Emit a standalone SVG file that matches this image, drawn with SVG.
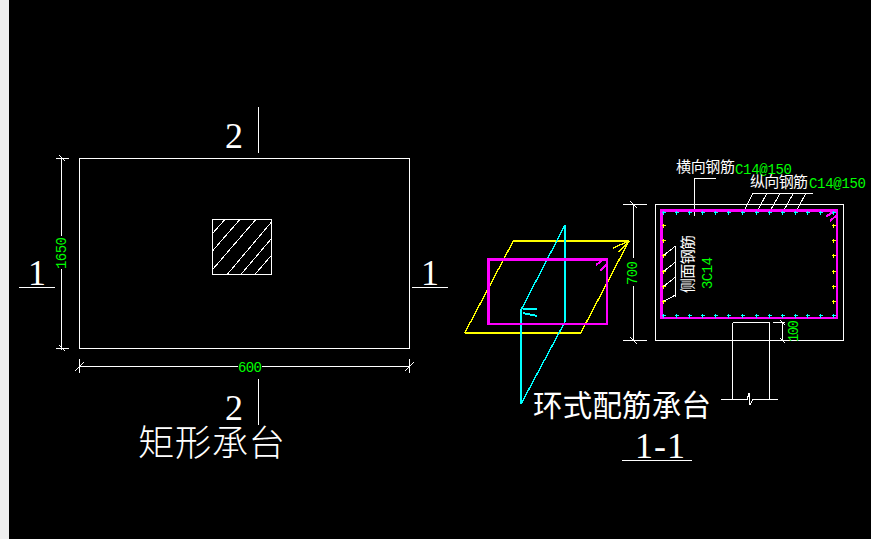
<svg xmlns="http://www.w3.org/2000/svg" width="871" height="539" viewBox="0 0 871 539">
<style>
path,rect{shape-rendering:crispEdges}
.w{fill:none;stroke:#fff;stroke-width:1}
.t{fill:none;stroke:#fff;stroke-width:1}
.m{fill:none;stroke:#f0f;stroke-width:2}
.m3{fill:none;stroke:#f0f;stroke-width:2.5}
.y{fill:none;stroke:#ff0;stroke-width:2}
.yd{fill:none;stroke:#ff0;stroke-width:1.4}
.c{fill:none;stroke:#0ff;stroke-width:2}
.cd{fill:none;stroke:#0ff;stroke-width:1.4}
.g{fill:#0f0;font-family:"Liberation Mono",monospace;font-size:14px}
.l{fill:#fff;font-family:"Noto Sans CJK SC","Noto Sans",sans-serif;font-size:15px}
.s{fill:#fff;font-family:"Liberation Serif",serif}
.h{fill:#fff;font-family:"Noto Sans CJK SC",sans-serif;font-weight:300}
.py{stroke:#ff0;stroke-width:1.5;fill:none}
.pc{stroke:#0ff;stroke-width:1.5;fill:none}
</style>
<defs>
<path id="py" class="py" d="M-2 0H2M0-2V2"/>
<path id="pc" class="pc" d="M-2 0H2M0-2V2"/>
</defs>
<rect width="871" height="539" fill="#000"/>
<rect width="9" height="539" fill="#efefef"/>
<g id="connectors">
<path class="w" d="M61.5 157V236M61.5 269V350M56 158.5H69M56 348.5H69"/>
<path class="t" d="M59 155L65 161M59 345L65 351"/>
<path class="w" d="M79.5 366.5H238M262 366.5H409.5M79.5 359V373M409.5 359V373"/>
<path class="t" d="M75 371L84 362M405 371L414 362"/>
<path class="w" d="M633.5 204V258M633.5 286V340.5M623 204.5H647M623 340.5H647"/>
<path class="t" d="M630 337L637 344M630 201L637 208"/>
<path class="w" d="M773 322.5H785M782.5 322V341"/>
<path class="t" d="M780 320L785 325M780 338L785 343"/>
<path class="w" d="M258.5 107V153M19 287.5H55M412 287.5H448M258.5 379V425M622 460.5H692"/>
<path class="w" d="M716 178.5H694.5V216M752.7 193.5H812.7"/>
<path class="t" d="M752.7 193.5L743.3 212.3M766.7 193.5L756.7 212.3M780 193.5L769.3 212.3M793.3 193.5L782.7 212.3M805.7 193.5L795.7 212.3"/>
<path class="w" d="M675.5 246V296.5"/>
<path class="t" d="M675.5 246L663.5 255.5M675.5 262L663.5 271.5M675.5 277L663.5 286.5M675.5 295L663.5 301.5"/>
</g>
<g id="plan">
<rect class="w" x="79.5" y="158.5" width="330" height="190"/>
<rect class="w" x="212.5" y="219.5" width="59" height="55"/>
<path class="t" d="M212.7 233.3L225 219.3M212.7 250.7L240 219.3M212.7 269.3L256 219.3M227.3 274.3L271.7 221.7M241 274.3L271.7 238.3M255 274.3L271.7 255"/>
</g>
<g id="iso">
<path class="y" d="M513.3 241H629M580.7 333H464.7"/>
<path class="yd" d="M513.3 241L464.7 333M629 241L580.7 333M613 248L628 241.5M618 252L628 243"/>
<path class="c" d="M565 225V321.7M521 310V404M523 308.5L537 309M523 313L537 316"/>
<path class="cd" d="M565 225L521 310M565 321.7L521 404"/>
<rect class="m3" x="488.5" y="259.5" width="118.5" height="64.5"/>
<path class="m" d="M596 265L604 259M600 270.7L607 264"/>
</g>
<g id="section">
<rect class="w" x="655.5" y="204.5" width="188" height="136"/>
<rect class="m3" x="661.5" y="210.5" width="175.5" height="107.5"/>
<path class="m" d="M826 216.7L835 210.7M830 221L837 215"/>
<path class="w" d="M721 399.5H747L749.3 392.7L750 405L752.7 399.5H777.7M732.5 322.5V399.5M769.5 322.5V399.5M732.5 322.5H769.5"/>
<g>
<use href="#pc" x="663.5" y="212.5"/><use href="#pc" x="676.5" y="212.5"/><use href="#pc" x="689.5" y="212.5"/><use href="#pc" x="702.5" y="212.5"/><use href="#pc" x="715.5" y="212.5"/><use href="#pc" x="728.5" y="212.5"/><use href="#pc" x="742.5" y="212.5"/><use href="#pc" x="756.5" y="212.5"/><use href="#pc" x="769.5" y="212.5"/><use href="#pc" x="782.5" y="212.5"/><use href="#pc" x="795.5" y="212.5"/><use href="#pc" x="807.5" y="212.5"/><use href="#pc" x="820.5" y="212.5"/><use href="#pc" x="833.5" y="212.5"/>
<use href="#pc" x="663.5" y="315.5"/><use href="#pc" x="676.5" y="315.5"/><use href="#pc" x="689.5" y="315.5"/><use href="#pc" x="702.5" y="315.5"/><use href="#pc" x="715.5" y="315.5"/><use href="#pc" x="728.5" y="315.5"/><use href="#pc" x="742.5" y="315.5"/><use href="#pc" x="756.5" y="315.5"/><use href="#pc" x="769.5" y="315.5"/><use href="#pc" x="782.5" y="315.5"/><use href="#pc" x="795.5" y="315.5"/><use href="#pc" x="807.5" y="315.5"/><use href="#pc" x="820.5" y="315.5"/><use href="#pc" x="833.5" y="315.5"/>
<use href="#py" x="663.5" y="225.5"/><use href="#py" x="663.5" y="240.5"/><use href="#py" x="663.5" y="255.5"/><use href="#py" x="663.5" y="271.5"/><use href="#py" x="663.5" y="286.5"/><use href="#py" x="663.5" y="301.5"/>
<use href="#py" x="833.5" y="225.5"/><use href="#py" x="833.5" y="240.5"/><use href="#py" x="833.5" y="255.5"/><use href="#py" x="833.5" y="271.5"/><use href="#py" x="833.5" y="286.5"/><use href="#py" x="833.5" y="301.5"/>
</g>
</g>
<g id="labels">
<text class="s" x="234" y="148" font-size="36" text-anchor="middle">2</text>
<text class="s" x="37" y="285" font-size="36" text-anchor="middle">1</text>
<text class="s" x="430" y="285" font-size="36" text-anchor="middle">1</text>
<text class="s" x="234" y="420" font-size="36" text-anchor="middle">2</text>
<text class="h" x="138" y="456" font-size="36.5" textLength="147">矩形承台</text>
<text class="h" x="533" y="416" font-size="29.5" style="font-weight:400" textLength="178">环式配筋承台</text>
<text class="s" x="635" y="458" font-size="36" textLength="50" lengthAdjust="spacing">1-1</text>
<text class="g" transform="translate(66 269) rotate(-90)" textLength="32">1650</text>
<text class="g" x="238" y="372" textLength="24">600</text>
<text class="g" transform="translate(637 285) rotate(-90)" textLength="24">700</text>
<text class="g" transform="translate(798 342) rotate(-90)" textLength="22">100</text>
<text class="g" transform="translate(712 289) rotate(-90)" textLength="32">3C14</text>
<text class="l" x="676" y="172" textLength="59">横向钢筋</text>
<text class="g" x="735" y="174" textLength="57">C14@150</text>
<text class="l" x="750" y="187" textLength="58">纵向钢筋</text>
<text class="g" x="809" y="188" textLength="57">C14@150</text>
<text class="l" transform="translate(693 293) rotate(-90)" textLength="58">侧面钢筋</text>
</g>
</svg>
